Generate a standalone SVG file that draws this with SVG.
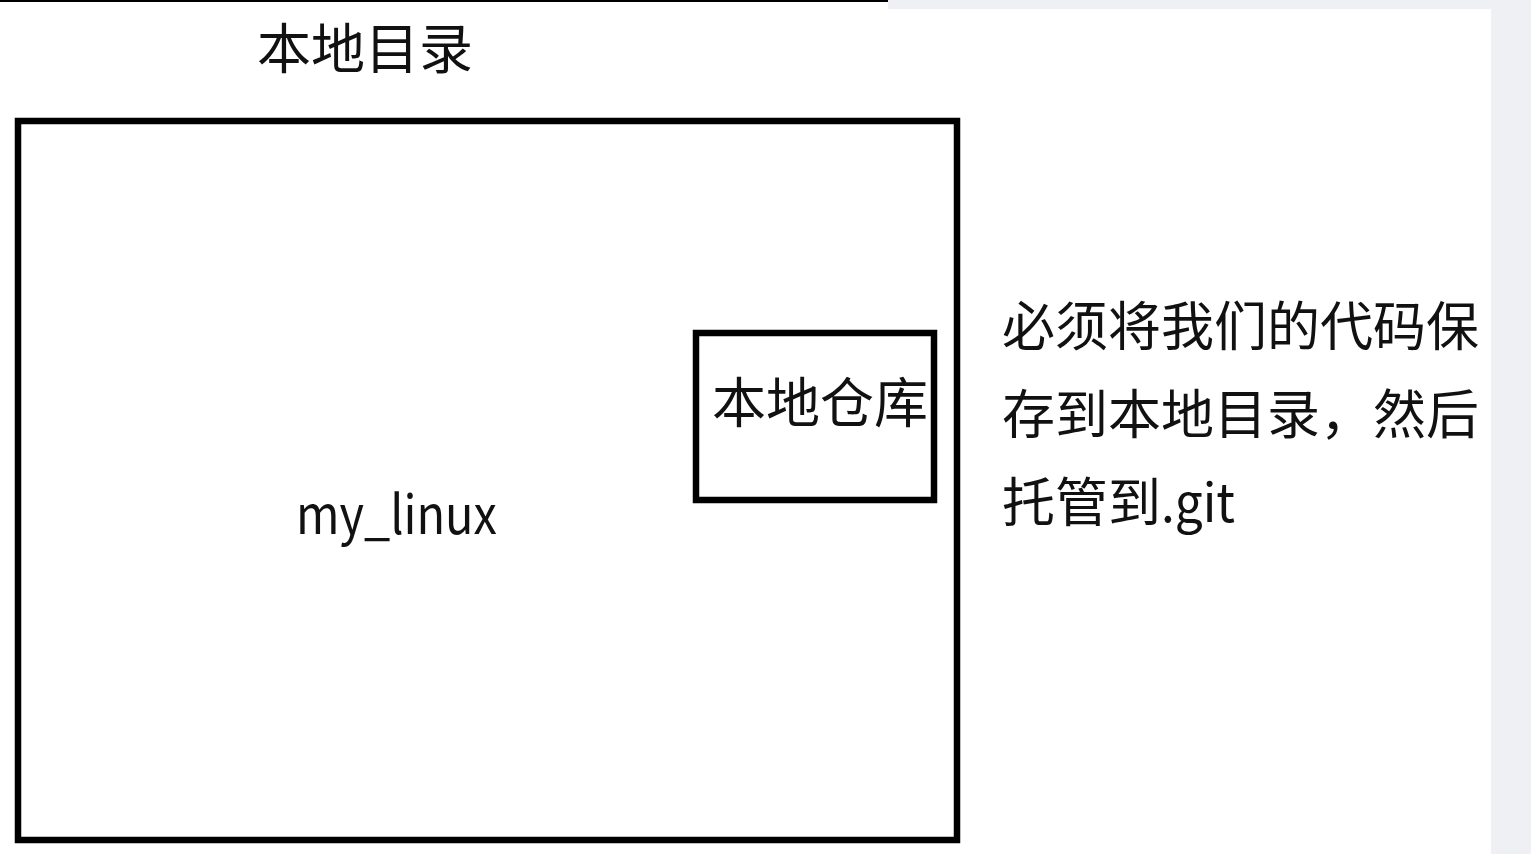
<svg xmlns="http://www.w3.org/2000/svg" width="1531" height="854" viewBox="0 0 1531 854">
<style>
.t{font-family:"Noto Sans CJK SC","Noto Sans",sans-serif;font-size:54px;fill:#111}
.n{font-size:53px}
.box{fill:none;stroke:#000;stroke-width:6.5}
</style>
<rect x="0" y="0" width="1531" height="854" fill="#eef0f4"/>
<rect x="0" y="0" width="888" height="10" fill="#fff"/>
<rect x="0" y="0" width="888" height="2" fill="#000"/>
<rect x="0" y="9" width="1491" height="845" fill="#fff"/>
<g id="title"><text class="t" x="257" y="69">本地目录</text></g>
<g id="my_linux">
<rect class="box" x="18" y="121" width="939" height="719"/>
<text class="t" x="296" y="534" textLength="201" lengthAdjust="spacingAndGlyphs">my_linux</text>
</g>
<g id="local_repo">
<rect class="box" x="696" y="333" width="238" height="167"/>
<text class="t" x="712" y="423">本地仓库</text>
</g>
<g id="note">
<text class="t n" x="1002" y="346">必须将我们的代码保</text>
<text class="t n" x="1002" y="434">存到本地目录，然后</text>
<text class="t n" x="1002" y="522">托管到<tspan textLength="74" lengthAdjust="spacingAndGlyphs">.git</tspan></text>
</g>
<g id="connectors"></g>
</svg>
